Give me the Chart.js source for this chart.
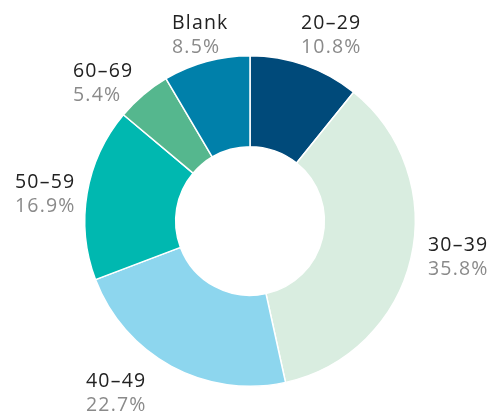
<!DOCTYPE html>
<html>
<head>
<meta charset="utf-8">
<script src="https://cdn.jsdelivr.net/npm/chart.js@4/dist/chart.umd.min.js"></script>
<style>
  html, body { margin: 0; padding: 0; background: #ffffff; }
  #wrap { width: 490px; height: 411px; position: relative; }
</style>
</head>
<body>
<div id="wrap"><canvas id="c" width="490" height="411"></canvas></div>
<script>
// Age groups, share of respondents (%)
const categories = ['20–29', '30–39', '40–49', '50–59', '60–69', 'Blank'];
const shares = [10.8, 35.8, 22.7, 16.9, 5.4, 8.5];
const shareLabels = ['10.8%', '35.8%', '22.7%', '16.9%', '5.4%', '8.5%'];

const sliceColors = ['#004a7a', '#d9ede0', '#8dd6ee', '#00b8b0', '#55b78e', '#0080aa'];

// Left edge and first-line baseline of each outside label
const labelSpots = [
  [301, 29], [428, 251], [86, 387], [15, 188], [73, 77], [172, 29]
];

const outsideLabels = {
  id: 'outsideLabels',
  afterDraw(chart) {
    const ctx = chart.ctx;
    const meta = chart.getDatasetMeta(0);
    ctx.save();
    ctx.textAlign = 'left';
    ctx.textBaseline = 'alphabetic';
    ctx.letterSpacing = '1.2px';
    meta.data.forEach((arc, i) => {
      const [x, y] = labelSpots[i];
      ctx.font = '400 19.5px "Open Sans", sans-serif';
      ctx.fillStyle = '#222222';
      ctx.fillText(categories[i], x, y);
      ctx.fillStyle = '#8a8a8a';
      ctx.fillText(shareLabels[i], x, y + 24);
    });
    ctx.restore();
  }
};

new Chart(document.getElementById('c'), {
  type: 'doughnut',
  data: {
    labels: categories,
    datasets: [{
      data: shares,
      backgroundColor: sliceColors,
      borderColor: '#ffffff',
      borderWidth: 1.5,
      hoverOffset: 0
    }]
  },
  options: {
    responsive: false,
    animation: false,
    cutout: '45%',
    layout: { padding: { left: 84, right: 74, top: 55, bottom: 24 } },
    plugins: {
      legend: { display: false },
      tooltip: { enabled: false }
    }
  },
  plugins: [outsideLabels]
});
</script>
</body>
</html>
